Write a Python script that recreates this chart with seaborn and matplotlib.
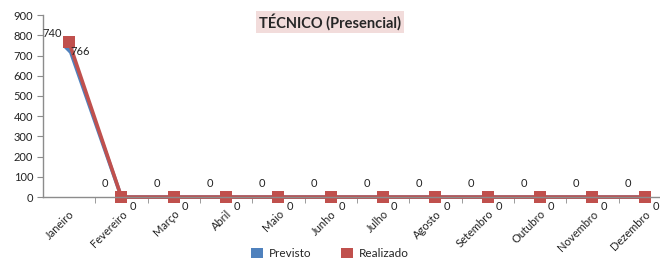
import matplotlib
matplotlib.use("Agg")
import matplotlib.pyplot as plt
from matplotlib.patches import Patch
import seaborn as sns
import pandas as pd

# dados do gráfico
meses = ["Janeiro", "Fevereiro", "Março", "Abril", "Maio", "Junho",
         "Julho", "Agosto", "Setembro", "Outubro", "Novembro", "Dezembro"]
previsto = [740, 0, 0, 0, 0, 0, 0, 0, 0, 0, 0, 0]
realizado = [766, 0, 0, 0, 0, 0, 0, 0, 0, 0, 0, 0]
series = ["Previsto", "Realizado"]
cores = {"Previsto": "#4f81bd", "Realizado": "#c0504d"}
titulo = "TÉCNICO (Presencial)"

df = pd.DataFrame({
    "pos": list(range(len(meses))) * 2,
    "valor": previsto + realizado,
    "serie": ["Previsto"] * len(meses) + ["Realizado"] * len(meses),
})

sns.set_style("white")
plt.rcParams["font.family"] = ["Lato", "DejaVu Sans"]

fig = plt.figure(figsize=(6.6, 2.6), dpi=100)
ax = fig.add_axes([0.065, 0.242, 0.9515, 0.70])

sns.lineplot(data=df, x="pos", y="valor", hue="serie", style="serie",
             palette=cores, markers={"Previsto": "D", "Realizado": "s"},
             dashes=False, linewidth=2.6, markersize=8, markeredgewidth=0,
             legend=False, ax=ax)
for ln in ax.lines:
    ln.set_clip_on(False)
# losango azul menor, escondido sob o quadrado vermelho
ax.lines[0].set_markersize(6)

# rótulos de dados
for i, v in enumerate(previsto):
    ax.annotate(str(v), (i, v), xytext=(-12, 6), textcoords="offset points",
                ha="center", va="bottom", fontsize=8, color="#222222")
for i, v in enumerate(realizado):
    ax.annotate(str(v), (i, v), xytext=(8, -3), textcoords="offset points",
                ha="center", va="top", fontsize=8, color="#222222")

ax.set_xlim(-0.5, 11.5)
ax.set_ylim(0, 900)
ax.set_yticks(range(0, 901, 100))
ax.set_xticks(range(len(meses)))
ax.set_xticklabels(meses, rotation=45, ha="right", rotation_mode="anchor",
                   fontsize=8, color="#222222")
ax.set_xticks([i + 0.5 for i in range(len(meses))], minor=True)
ax.tick_params(axis="x", which="major", length=0, pad=8)
ax.tick_params(axis="x", which="minor", length=4, color="#8c8c8c",
               direction="out", bottom=True)
ax.tick_params(axis="y", length=4, color="#8c8c8c", direction="out",
               labelsize=8, labelcolor="#222222", left=True, pad=3)
ax.set_xlabel("")
ax.set_ylabel("")
for s in ["top", "right"]:
    ax.spines[s].set_visible(False)
for s in ["left", "bottom"]:
    ax.spines[s].set_color("#8c8c8c")
    ax.spines[s].set_linewidth(1)

fig.text(0.5, 0.915, titulo, ha="center", va="center", fontsize=10.5,
         fontweight="bold", bbox=dict(facecolor="#f2dcdb", edgecolor="none",
                                      pad=2))

handles = [Patch(facecolor=cores[s], edgecolor="none") for s in series]
fig.legend(handles, series, loc="center", bbox_to_anchor=(0.5, 0.025),
           ncol=2, frameon=False, fontsize=8.5, handlelength=1.0,
           handleheight=0.9, columnspacing=2.5, handletextpad=0.5)

fig.savefig("out.png", dpi=100)
